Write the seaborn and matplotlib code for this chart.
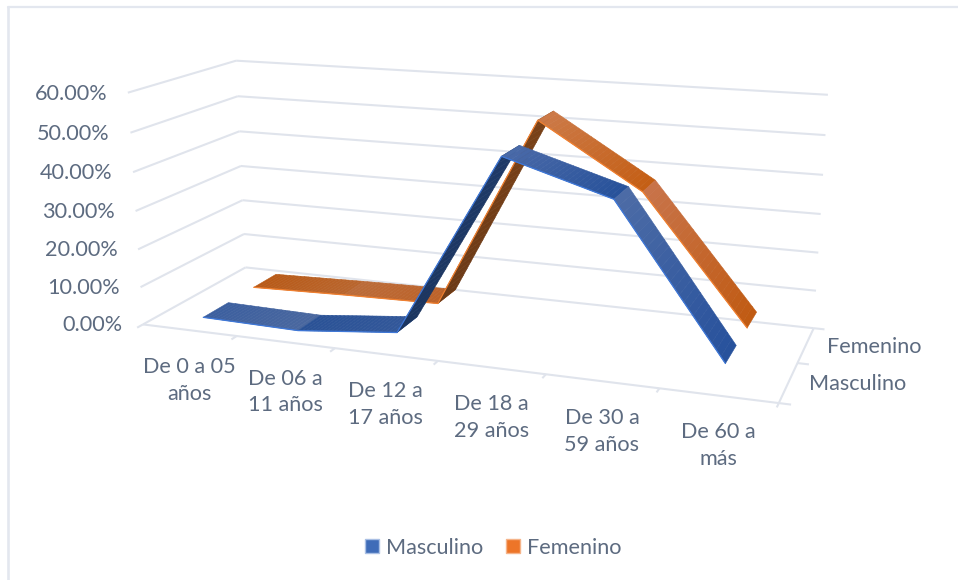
import numpy as np
import matplotlib
matplotlib.use("Agg")
import matplotlib.pyplot as plt
from matplotlib.collections import PolyCollection
from matplotlib.patches import Patch
import seaborn as sns

# Survey shares by age band (percent)
age_bands = ["De 0 a 05\naños", "De 06 a\n11 años", "De 12 a\n17 años",
             "De 18 a\n29 años", "De 30 a\n59 años", "De 60 a\nmás"]
masculino = [1.2, 0.7, 3.3, 49.5, 41.5, 5.2]
femenino = [1.3, 2.0, 2.5, 53.0, 37.0, 5.0]
series_names = ["Masculino", "Femenino"]
y_ticks = [0, 10, 20, 30, 40, 50, 60]

sns.set_theme(style="white")
plt.rcParams["font.family"] = ["Lato", "DejaVu Sans"]

TEXT = "#5d6b80"
GRID = "#e0e4ec"
FONT = 15.6
PALETTE = {"Masculino": "#3f6cb8", "Femenino": "#ed7528"}
EDGE = {"Masculino": "#3f78d8", "Femenino": "#f08030"}
# (start, end) shade for the upper face of each ribbon segment
SHADES = {
    "Masculino": [("#3c5f9f", "#4a689f"), ("#2a5296", "#33589a"), ("#1b3560", "#1f3a68"),
                  ("#4a6aa8", "#27519a"), ("#4d6ca6", "#27519c")],
    "Femenino": [("#b85a18", "#b9662e"), ("#bb6c3a", "#bd6228"), ("#6b3a17", "#7a4218"),
                 ("#cc7a48", "#c45e14"), ("#c8744a", "#c05a12")],
}

# Camera for the box: category axis 0..6, series axis 0..2, value axis 0..60
frame_world = np.array([
    (0, 0, 0), (0, 2, 0), (6, 2, 0), (6, 0, 0), (0, 2, 60), (6, 2, 60), (0, 0, 60),
    (0, 2, 30), (6, 2, 30), (0, 0, 30), (1, 0, 0), (2, 0, 0), (4, 0, 0), (5, 0, 0),
], dtype=float)
frame_screen = np.array([
    (144, 322), (245, 267), (814, 327), (778, 401), (236, 62), (828, 95), (128, 92),
    (241, 166), (821, 214), (135, 209), (237, 339), (335, 350), (545, 375), (660, 390),
], dtype=float)


def solve_camera(world, screen):
    w = world / np.array([6.0, 2.0, 60.0])
    s = screen / 1000.0
    rows = []
    for (a, b, c), (u, v) in zip(w, s):
        rows.append([a, b, c, 1, 0, 0, 0, 0, -u * a, -u * b, -u * c, -u])
        rows.append([0, 0, 0, 0, a, b, c, 1, -v * a, -v * b, -v * c, -v])
    return np.linalg.svd(np.array(rows))[2][-1].reshape(3, 4)


CAMERA = solve_camera(frame_world, frame_screen)


def project(x, y, z):
    x, y, z = np.broadcast_arrays(x, y, z)
    h = np.stack([x / 6.0, y / 2.0, z / 60.0, np.ones_like(x, dtype=float)])
    p = CAMERA @ h
    return 1000.0 * p[0] / p[2], 1000.0 * p[1] / p[2]


fig = plt.figure(figsize=(9.58, 5.8), dpi=100, facecolor="white")
ax = fig.add_axes([0, 0, 1, 1])
ax.set_xlim(0, 958)
ax.set_ylim(580, 0)
ax.axis("off")


def seg(a, b, lw=1.5, color=GRID, z=1):
    xs, ys = project(*np.array([a, b]).T)
    ax.plot(xs, ys, color=color, lw=lw, zorder=z, solid_capstyle="butt")


# Chart frame: only the top and left edges show
ax.plot([8.5, 8.5], [7, 580], color="#e3e7ef", lw=1.9, zorder=0)
ax.plot([8.5, 958], [7, 7], color="#e3e7ef", lw=1.6, zorder=0)

# Walls and floor
for t in y_ticks:
    seg((0, 0, t), (0, 2, t))
    seg((0, 2, t), (6, 2, t))
seg((0, 0, 0), (6, 0, 0))
seg((6, 0, 0), (6, 2, 0))
for i in range(7):
    seg((i, 0, 0), (i, -0.1, 0))
for j in range(3):
    seg((6, j, 0), (6.1, j, 0))

# Value, category and series labels
for t in y_ticks:
    px, py = project(0, 0, t)
    ax.text(px - 20.5, py + 1, f"{t:.2f}%", ha="right", va="center", color=TEXT, fontsize=FONT)
for i, lab in enumerate(age_bands):
    px, py = project(i + 0.5, 0, 0)
    ax.text(px, py + 50, lab, ha="center", va="center", color=TEXT, fontsize=FONT, linespacing=1.43)
for j, name in enumerate(series_names):
    px, py = project(6, j + 0.5, 0)
    ax.text(px + 21, py + 1.5, name, ha="left", va="center", color=TEXT, fontsize=FONT)


def ribbon(values, depth, name, half=0.24, zorder=3):
    """Draw one series as a bent sheet, each segment shaded along its length."""
    xc = np.arange(len(values)) + 0.5
    polys, cols = [], []
    for k in range(len(values) - 1):
        c0, c1 = (np.array(matplotlib.colors.to_rgb(c)) for c in SHADES[name][k])
        for f0 in np.linspace(0, 1, 24, endpoint=False):
            f1 = f0 + 1 / 24
            x0, x1 = xc[k] + f0, xc[k] + f1
            z0 = values[k] + (values[k + 1] - values[k]) * f0
            z1 = values[k] + (values[k + 1] - values[k]) * f1
            a = project([x0, x1, x1, x0],
                        [depth - half, depth - half, depth + half, depth + half],
                        [z0, z1, z1, z0])
            polys.append(np.column_stack(a))
            cols.append(c0 + (c1 - c0) * (f0 + 0.02))
    ax.add_collection(PolyCollection(polys, facecolors=cols, edgecolors=cols, linewidths=0.4,
                                     zorder=zorder))
    fx, fy = project(xc, depth - half, np.array(values, dtype=float))
    ax.plot(fx, fy, color=EDGE[name], lw=0.9, zorder=zorder + 0.1, solid_joinstyle="round")


ribbon(femenino, 1.5, "Femenino", zorder=3)
ribbon(masculino, 0.5, "Masculino", zorder=4)

handles = [Patch(facecolor=PALETTE[n], edgecolor="#a9bfe4" if n == "Masculino" else "#f5b48a",
                 label=n) for n in series_names]
ax.legend(handles=handles, loc="center", bbox_to_anchor=(493 / 958, 1 - 547.5 / 580),
          ncol=2, frameon=False, fontsize=FONT, labelcolor=TEXT, handlelength=0.64, handleheight=0.64,
          handletextpad=0.32, columnspacing=1.05, bbox_transform=fig.transFigure)

fig.savefig("out.png", dpi=100)
